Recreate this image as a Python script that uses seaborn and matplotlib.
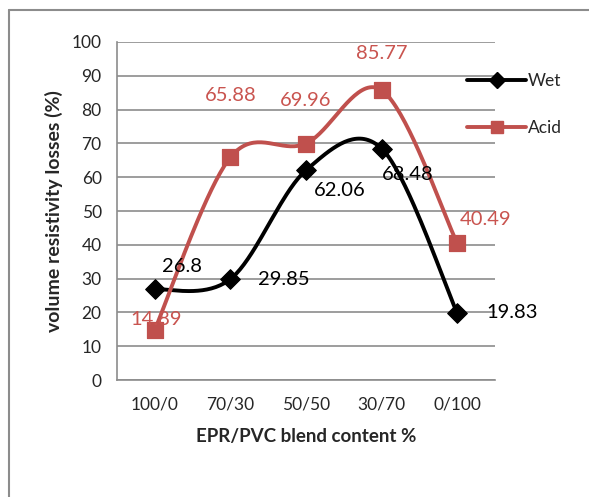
import numpy as np
import pandas as pd
import matplotlib
matplotlib.use("Agg")
import matplotlib.pyplot as plt
import seaborn as sns

categories = ["100/0", "70/30", "50/50", "30/70", "0/100"]
wet = [26.8, 29.85, 62.06, 68.48, 19.83]
acid = [14.89, 65.88, 69.96, 85.77, 40.49]

sns.set_style("white")
plt.rcParams["font.family"] = ["Lato", "DejaVu Sans"]


def smooth(xs, ys, n=40):
    # Excel style smoothed line: cubic bezier through the points
    p = np.column_stack([xs, ys]).astype(float)
    p_ext = np.vstack([p[0], p, p[-1]])
    t = np.linspace(0, 1, n)[:, None]
    out = []
    for i in range(len(p) - 1):
        p0, p1, p2, p3 = p_ext[i], p_ext[i + 1], p_ext[i + 2], p_ext[i + 3]
        c1 = p1 + (p2 - p0) / 6
        c2 = p2 - (p3 - p1) / 6
        seg = ((1 - t) ** 3) * p1 + 3 * ((1 - t) ** 2) * t * c1 + 3 * (1 - t) * t ** 2 * c2 + t ** 3 * p2
        out.append(seg)
    out = np.vstack(out)
    return out[:, 0], out[:, 1]


df = pd.DataFrame({"cat": categories, "Wet": wet, "Acid": acid})
df["x"] = np.arange(len(categories))

fig = plt.figure(figsize=(5.89, 4.97), dpi=100)
ax = fig.add_axes([0.1986, 0.2354, 0.6418, 0.6801])

red = "#C0504D"
series = [("Wet", "black", "D", 10), ("Acid", red, "s", 11)]
for name, col, mk, ms in series:
    sx, sy = smooth(df["x"], df[name])
    ax.plot(sx, sy, color=col, lw=2.8, zorder=3, solid_capstyle="round")
    sns.scatterplot(data=df, x="x", y=name, ax=ax, marker=mk, s=ms ** 2,
                    color=col, edgecolor=col, zorder=4, legend=False)

# data labels
wet_off = [(27, 23), (53, 0), (34, -20), (26, -26), (55, 0)]
acid_off = [(1, 10), (0, 62), (0, 43), (0, 37), (28, 24)]
for i in range(len(categories)):
    ax.annotate(f"{wet[i]:g}", (i, wet[i]), xytext=wet_off[i], textcoords="offset pixels",
                ha="center", va="center", fontsize=14.5, color="black", zorder=5)
    ax.annotate(f"{acid[i]:g}", (i, acid[i]), xytext=acid_off[i], textcoords="offset pixels",
                ha="center", va="center", fontsize=14.5, color="#C9544F", zorder=5)

ax.set_xlim(-0.5, len(categories) - 0.5)
ax.set_ylim(0, 100)
ax.set_yticks(range(0, 101, 10))
ax.set_xticks(range(len(categories)))
ax.set_xticklabels(categories)
ax.set_xticks(np.arange(-0.5, len(categories), 1), minor=True)
ax.tick_params(axis="x", which="major", length=0, labelsize=12.5, pad=12)
ax.tick_params(axis="x", which="minor", length=6, width=1.2, color="#8c8c8c", direction="out")
ax.tick_params(axis="y", length=7, width=1.2, color="#8c8c8c", direction="out", labelsize=12.5, pad=4)
ax.grid(axis="y", color="#8c8c8c", lw=1.2)
ax.set_axisbelow(True)
for s in ["top", "right"]:
    ax.spines[s].set_visible(False)
for s in ["left", "bottom"]:
    ax.spines[s].set_color("#8c8c8c")
    ax.spines[s].set_linewidth(1.2)

ax.set_xlabel("EPR/PVC blend content %", fontsize=13.5, fontweight="bold", labelpad=11)
ax.set_ylabel("volume resistivity losses (%)", fontsize=14, fontweight="bold", labelpad=6)

handles = [plt.Line2D([], [], color=c, lw=2.8, marker=m, markersize=ms * 0.8) for _, c, m, ms in series]
ax.legend(handles, [n for n, _, _, _ in series], loc="upper left", bbox_to_anchor=(0.885, 0.955),
          frameon=False, fontsize=12.5, handlelength=3.4, handletextpad=0.1, labelspacing=1.8)

# outer chart frame
fig.add_artist(plt.Line2D([9 / 589, 9 / 589], [0, 1 - 10 / 497], color="#8c8c8c", lw=1.5))
fig.add_artist(plt.Line2D([9 / 589, 1], [1 - 10 / 497, 1 - 10 / 497], color="#8c8c8c", lw=1.5))

fig.savefig("out.png", dpi=100)
